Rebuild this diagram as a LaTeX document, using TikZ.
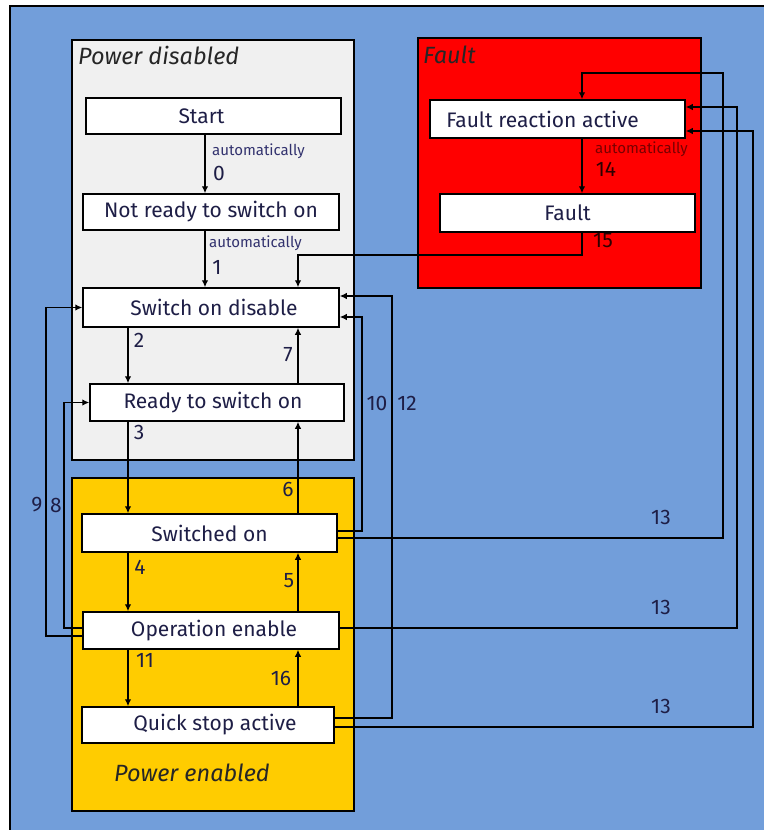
\documentclass[tikz,border=0pt]{standalone}
\usepackage{fontspec}
\setmainfont{Fira Sans}
\usetikzlibrary{arrows.meta,calc}
\definecolor{bgblue}{RGB}{114,158,218}
\definecolor{pdgrey}{RGB}{240,240,240}
\definecolor{peyellow}{RGB}{255,204,0}
\definecolor{fred}{RGB}{255,0,0}
\definecolor{txtnavy}{RGB}{30,30,70}
\definecolor{autonavy}{RGB}{50,50,110}
\definecolor{autored}{RGB}{120,0,0}
\definecolor{numred}{RGB}{45,0,0}
\begin{document}
\begin{tikzpicture}[x=1pt,y=-1pt,
  state/.style={draw=black, line width=1.5pt, fill=white, inner sep=0pt, font=\fontsize{21}{23}\selectfont, text=txtnavy},
  region/.style={draw=black, line width=1.6pt},
  conn/.style={line width=1.3pt, draw=black},
  arr/.style={conn, -{Latex[length=7pt,width=6.5pt]}},
  num/.style={font=\fontsize{21}{22}\selectfont, text=txtnavy, inner sep=0pt},
  autolbl/.style={font=\fontsize{15}{16}\selectfont, text=autonavy, inner sep=0pt, anchor=west},
  regionlbl/.style={font=\itshape\fontsize{23.5}{25}\selectfont, text=black!85, inner sep=0pt, anchor=west}
]
\useasboundingbox (0,0) rectangle (764,830);
% background
\fill[bgblue] (10,6) rectangle (764,830);
\draw[line width=1.6pt] (10,830) -- (10,6) -- (764,6);
% regions
\draw[region, fill=pdgrey] (72,40) rectangle (354,460);
\draw[region, fill=peyellow] (72,478) rectangle (354,811);
\draw[region, fill=fred] (418,38) rectangle (701,288);
\node[regionlbl] (pdlbl) at (78,55) {Power disabled};
\node[regionlbl] (pelbl) at (114,773) {Power enabled};
\node[regionlbl] (flbl) at (423,55) {Fault};
% column coordinates
\coordinate (xa) at (205,0);
\coordinate (xl) at (128,0);
\coordinate (xr) at (298,0);
\coordinate (xf) at (582,0);
\coordinate (v9) at (46,0);
\coordinate (v8) at (64,0);
\coordinate (v10) at (362,0);
\coordinate (v12) at (392,0);
\coordinate (v13b) at (737,0);
\coordinate (v13c) at (753,0);
\coordinate (k13a) at (723,73);
\coordinate (j15) at (298,255);
% states
\node[state, minimum width=255pt, minimum height=36pt] (start) at (213.5,116) {\hspace*{-24pt}Start};
\node[state, minimum width=256pt, minimum height=36pt] (notready) at (211,212) {Not ready to switch on};
\node[state, minimum width=256pt, minimum height=39pt] (sod) at (211,307.5) {\hspace*{6pt}Switch on disable};
\node[state, minimum width=254pt, minimum height=37pt] (rtso) at (217,402.5) {\hspace*{-8pt}Ready to switch on};
\node[state, minimum width=255pt, minimum height=38pt] (swon) at (209.5,533) {Switched on};
\node[state, minimum width=256pt, minimum height=37pt] (opena) at (211,630.5) {\hspace*{6pt}Operation enable};
\node[state, minimum width=252pt, minimum height=36pt] (qsa) at (208,725) {\hspace*{14pt}Quick stop active};
\node[state, minimum width=255pt, minimum height=38pt] (fra) at (557.5,119) {\hspace*{-30pt}Fault reaction active};
\node[state, minimum width=255pt, minimum height=38pt] (fault) at (567.5,213) {Fault};
% helper coordinates on node borders
\coordinate (sod10) at ($(sod.east)+(0,9.5)$);
\coordinate (sod12) at ($(sod.east)+(0,-11.5)$);
\coordinate (fraB) at ($(fra.east)+(0,-12)$);
\coordinate (fraC) at ($(fra.east)+(0,12)$);
% connectors
\draw[arr] (start.south -| xa) -- (notready.north -| xa);
\draw[arr] (notready.south -| xa) -- (sod.north -| xa);
\draw[arr] (fault.south -| xf) |- (j15) -- (sod.north -| j15);
\draw[arr] (fra.south -| xf) -- (fault.north -| xf);
\draw[arr] (sod.south -| xl) -- (rtso.north -| xl);
\draw[arr] (rtso.north -| xr) -- (sod.south -| xr);
\draw[arr] (rtso.south -| xl) -- (swon.north -| xl);
\draw[arr] (swon.north -| xr) -- (rtso.south -| xr);
\draw[arr] (swon.south -| xl) -- (opena.north -| xl);
\draw[arr] (opena.north -| xr) -- (swon.south -| xr);
\draw[arr] (opena.south -| xl) -- (qsa.north -| xl);
\draw[arr] (qsa.north -| xr) -- (opena.south -| xr);
\draw[arr] ($(opena.west)+(0,5.5)$) -| (sod.west -| v9) -- (sod.west);
\draw[arr] ($(opena.west)+(0,-2.5)$) -| (rtso.west -| v8) -- (rtso.west);
\draw[arr] ($(swon.east)+(0,-2)$) -| (sod10 -| v10) -- (sod10);
\draw[arr] ($(qsa.east)+(0,-7)$) -| (sod12 -| v12) -- (sod12);
\draw[arr] ($(swon.east)+(0,5)$) -| (k13a) -| (fra.north -| xf);
\draw[arr] ($(opena.east)+(0,-2.5)$) -| (fraB -| v13b) -- (fraB);
\draw[arr] ($(qsa.east)+(0,2)$) -| (fraC -| v13c) -- (fraC);
% labels
\node[autolbl] (a0) at (212,151) {automatically};
\node[num] (n0) at (219,173) {0};
\node[autolbl] (a1) at (209,243) {automatically};
\node[num] (n1) at (217,267) {1};
\node[autolbl, text=autored] (a14) at (595,149) {automatically};
\node[num, text=numred] (n14) at (606,169) {14};
\node[num, text=numred] (n15) at (603,241) {15};
\node[num] (n2) at (139,340) {2};
\node[num] (n7) at (288,355) {7};
\node[num] (n3) at (139,432) {3};
\node[num] (n6) at (288,489) {6};
\node[num] (n4) at (140,567) {4};
\node[num] (n5) at (289,581) {5};
\node[num] (n11) at (145,660) {11};
\node[num] (n16) at (281,678) {16};
\node[num] (n9) at (37,505) {9};
\node[num] (n8) at (56,505) {8};
\node[num] (n10) at (377,403) {10};
\node[num] (n12) at (407,403) {12};
\node[num] (n13a) at (661,517) {13};
\node[num] (n13b) at (661,607) {13};
\node[num] (n13c) at (661,706) {13};
\end{tikzpicture}
\end{document}
